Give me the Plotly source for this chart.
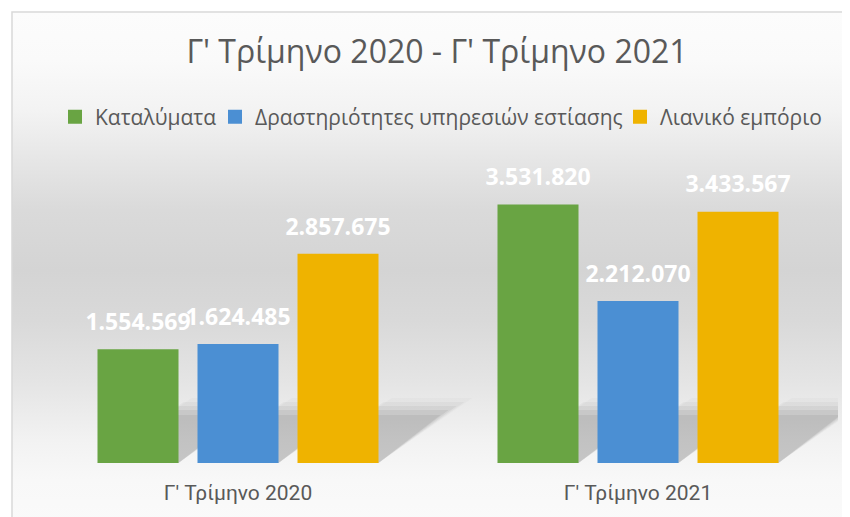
import plotly.graph_objects as go

categories = ["Γ' Τρίμηνο 2020", "Γ' Τρίμηνο 2021"]
series_names = ["Καταλύματα", "Δραστηριότητες υπηρεσιών εστίασης", "Λιανικό εμπόριο"]
katalymata = [1554569, 3531820]
estiasi = [1624485, 2212070]
lianiko = [2857675, 3433567]
series_values = [katalymata, estiasi, lianiko]
series_colors = ["#69a443", "#4b8fd3", "#efb300"]

W, H = 850, 517
OFF = 8  # page body margin: figure is drawn 8px right / down of the page origin
BARGAP, GROUPGAP = 0.25, 0.19
Y_MAX = 4.139e6
PLOT_L, PLOT_R, PLOT_T, PLOT_B = 38, 838, 160, 463  # page pixels


def px_x(x):  # page x -> paper fraction
    return (x - OFF) / W


def px_y(y):  # page y -> paper fraction (from bottom)
    return 1 - (y - OFF) / H


fig = go.Figure()

# chart-area background (vertical gradient, darkest in the middle)
fig.add_trace(go.Scatter(
    x=[0, 1, 1, 0, 0], y=[0, 0, 1, 1, 0], xaxis="x", yaxis="y",
    mode="lines", line=dict(width=0), fill="toself",
    fillgradient=dict(type="vertical", colorscale=[
        [0.0, "#fafafa"], [0.088, "#f8f8f8"], [0.166, "#f2f2f2"], [0.283, "#e4e4e4"],
        [0.40, "#d9d9d9"], [0.497, "#d4d4d4"], [0.614, "#dadada"], [0.711, "#e6e6e6"],
        [0.809, "#f3f3f3"], [0.906, "#fafafa"], [1.0, "#fcfcfc"]]),
    hoverinfo="skip", showlegend=False))

for name, vals, col in zip(series_names, series_values, series_colors):
    fig.add_trace(go.Bar(
        x=categories, y=vals, name=name,
        marker=dict(color=col, line=dict(width=0)),
        xaxis="x2", yaxis="y2", offsetgroup=name, alignmentgroup="g",
        showlegend=False))

for name, vals in zip(series_names, series_values):
    fig.add_trace(go.Scatter(
        x=categories, y=vals, mode="markers+text",
        marker=dict(size=20, opacity=0),
        texttemplate="%{y:,}", textposition="top center",
        textfont=dict(family="Open Sans", size=23, color="white", weight="bold"),
        xaxis="x2", yaxis="y2", offsetgroup=name, alignmentgroup="g",
        showlegend=False, hoverinfo="skip"))

# legend entries (square swatches), one legend box per entry
legend_text_x = [95, 255, 660]  # page x where each entry's text starts
legend_keys = ["legend", "legend2", "legend3"]
for name, col, key in zip(series_names, series_colors, legend_keys):
    fig.add_trace(go.Scatter(
        x=[None], y=[None], mode="markers", name=name, legend=key,
        marker=dict(symbol="square", size=14, color=col),
        xaxis="x2", yaxis="y2", showlegend=True))

legend_style = dict(orientation="h", xanchor="left", yanchor="middle", y=px_y(117),
                    font=dict(family="Open Sans", size=21, color="#595959"),
                    bgcolor="rgba(0,0,0,0)", borderwidth=0)
legends = {key: dict(legend_style, x=px_x(tx - 40)) for key, tx in zip(legend_keys, legend_text_x)}

# soft shadows cast by bars (up-right), built from bar geometry in axis units
px_per_cat = (PLOT_R - PLOT_L) / len(categories)
px_per_val = (PLOT_B - PLOT_T) / Y_MAX
slot = (1 - BARGAP) / len(series_names)
half_w = slot * (1 - GROUPGAP) / 2
shadow_layers = [(62, 48, 0.05), (70, 53, 0.06), (78, 57, 0.045), (86, 61, 0.03), (94, 65, 0.02)]
shapes = []
for ci in range(len(categories)):
    for si in range(len(series_names)):
        c = ci + (si - 1) * slot
        for sx, sy, alpha in shadow_layers:
            dx = sx / px_per_cat
            dy = sy / px_per_val
            path = (f"M {c - half_w},0 L {c + half_w},0 "
                    f"L {c + half_w + dx},{dy} L {c - half_w + dx},{dy} Z")
            shapes.append(dict(type="path", xref="x2", yref="y2", path=path,
                               fillcolor=f"rgba(0,0,0,{alpha})", line=dict(width=0),
                               layer="below"))

shapes.append(dict(type="rect", xref="paper", yref="paper",
                   x0=px_x(12), x1=1.02, y0=-0.02, y1=px_y(12),
                   line=dict(color="#d9d9d9", width=1.5), fillcolor="rgba(0,0,0,0)"))

fig.update_layout(
    width=W, height=H,
    margin=dict(l=0, r=0, t=0, b=0),
    paper_bgcolor="white", plot_bgcolor="rgba(0,0,0,0)",
    separators=",.",
    barmode="group", scattermode="group",
    bargap=BARGAP, bargroupgap=GROUPGAP, scattergap=BARGAP,
    font=dict(family="Open Sans", color="#595959"),
    title=dict(text="Γ' Τρίμηνο 2020 - Γ' Τρίμηνο 2021",
               font=dict(family="Open Sans", size=32, color="#595959"),
               x=px_x(437), xanchor="center", y=px_y(52), yanchor="middle"),
    **legends,
    xaxis=dict(domain=[px_x(12), 1], range=[0, 1], visible=False, fixedrange=True),
    yaxis=dict(domain=[0, px_y(12)], range=[0, 1], visible=False, fixedrange=True),
    xaxis2=dict(domain=[px_x(PLOT_L), px_x(PLOT_R)], anchor="y2", showgrid=False,
                range=[-0.5, len(categories) - 0.5],
                showline=False, zeroline=False, ticks="outside", ticklen=11,
                tickcolor="rgba(0,0,0,0)",
                tickfont=dict(family="Roboto", size=21, color="#595959")),
    yaxis2=dict(domain=[px_y(PLOT_B), px_y(PLOT_T)], anchor="x2", range=[0, Y_MAX],
                visible=False, showgrid=False),
    shapes=shapes,
)

fig.write_html("out.html")
